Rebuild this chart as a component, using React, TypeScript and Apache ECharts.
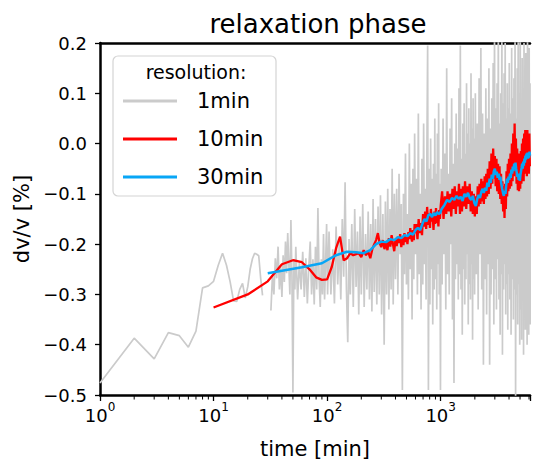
import React, { useEffect, useRef } from "react";
import * as echarts from "echarts";

const TITLE = "relaxation phase";
const X_NAME = "time [min]";
const Y_NAME = "dv/v [%]";
const LEGEND_TITLE = "resolution:";
const SERIES_NAMES = ["1min", "10min", "30min"];
const X_MIN = 1;
const X_MAX = 6120;
const Y_MIN = -0.5;
const Y_MAX = 0.2;
const Y_STEP = 0.1;
const X_TICK_LABELS: Record<number, string> = { 1: "0", 10: "1", 100: "2", 1000: "3" };
const MINOR_TICKS = [2, 3, 4, 5, 6, 7, 8, 9, 20, 30, 40, 50, 60, 70, 80, 90, 200, 300, 400, 500, 600, 700, 800, 900, 2000, 3000, 4000, 5000, 6000];

// 1 min resolution (gray)
const GRAY_EARLY: [number, number | string][] = [
  [1, -0.476], [2, -0.387], [3, -0.428], [4, -0.376], [5, -0.382], [6, -0.405], [7, -0.373], [8, -0.287], [9, -0.283], [10, -0.274],
  [11, -0.242], [12, -0.218], [13, -0.242], [14, -0.275], [15, -0.313], [16, -0.314], [17, -0.29], [18, -0.278], [19, -0.307], [20, -0.285],
  [21, -0.25], [22, -0.229], [23, -0.218], [24, -0.22], [25, -0.223], [26, -0.268], [27, -0.302], [30, "-"],
];
const GRAY_MID: [number, number][] = [
  [32, -0.332], [33, -0.262], [34, -0.3], [35, -0.228], [36, -0.268], [37, -0.205], [38, -0.29], [39, -0.245], [40, -0.305], [41, -0.222],
  [42, -0.275], [43, -0.195], [44, -0.258], [45, -0.178], [46, -0.24], [47, -0.3], [48, -0.152], [49, -0.262], [50, -0.495], [51, -0.23],
  [52, -0.29], [53, -0.205], [55, -0.31], [57, -0.235], [59, -0.29], [61, -0.215], [63, -0.305], [65, -0.228], [67, -0.318], [69, -0.245],
  [71, -0.195], [73, -0.3], [75, -0.23], [77, -0.32], [79, -0.205], [81, -0.29], [83, -0.128], [85, -0.268], [87, -0.325], [89, -0.23],
  [91, -0.3], [93, -0.18], [95, -0.31], [97, -0.24], [99, -0.16], [101, -0.3],
];
const GRAY_HUNDREDS: [number, number][] = [
  [104, -0.175], [108, -0.3], [112, -0.21], [116, -0.318], [120, -0.165], [124, -0.28], [128, -0.195], [132, -0.31], [136, -0.15], [140, -0.265],
  [144, -0.077], [148, -0.29], [152, -0.395], [156, -0.19], [160, -0.3], [165, -0.16], [170, -0.325], [175, -0.13], [180, -0.285], [185, -0.175],
  [190, -0.34], [195, -0.145], [200, -0.3], [206, -0.12], [212, -0.325], [218, -0.18], [224, -0.29], [230, -0.135], [236, -0.31], [242, -0.16],
  [248, -0.334], [254, -0.11], [260, -0.295], [267, -0.15], [274, -0.32], [281, -0.125], [288, -0.3], [295, -0.103], [302, -0.34], [310, -0.14],
  [318, -0.4], [326, -0.115], [334, -0.3], [342, -0.09], [350, -0.33], [358, -0.13], [366, -0.29], [374, -0.05], [382, -0.32], [391, -0.1],
  [400, -0.27], [410, -0.09], [420, -0.3], [430, -0.06], [440, -0.22], [450, -0.12], [460, -0.49], [470, -0.1], [480, -0.26], [490, -0.02],
  [500, -0.28], [510, -0.14], [520, -0.31], [530, 0.0], [540, -0.25], [550, -0.08], [560, -0.35], [570, -0.05], [580, -0.27], [590, 0.02],
  [600, -0.22], [612, -0.07], [624, -0.3], [636, 0.06], [648, -0.26], [660, -0.1], [672, -0.33], [684, -0.03], [696, -0.28], [708, 0.04],
  [720, -0.24], [732, -0.09], [744, -0.31], [756, -0.02], [768, 0.195], [780, -0.49], [792, -0.05], [804, -0.32], [816, 0.01], [828, -0.25],
  [840, -0.07], [852, -0.36], [864, -0.04], [876, -0.29], [888, 0.05], [900, -0.27], [912, -0.06], [924, -0.33], [936, 0.02], [948, -0.24],
  [960, 0.08], [972, -0.3], [984, -0.08], [996, -0.49],
];
const GRAY_THOUSANDS: [number, number][] = [
  [1010, -0.05], [1030, -0.28], [1050, 0.05], [1070, -0.22], [1090, -0.02], [1110, -0.33], [1130, 0.15], [1150, -0.26], [1170, -0.06], [1190, -0.3],
  [1210, 0.03], [1230, -0.2], [1250, 0.09], [1270, -0.35], [1290, -0.04], [1310, -0.476], [1330, 0.0], [1350, -0.27], [1370, 0.06], [1390, -0.24],
  [1410, -0.01], [1430, -0.31], [1450, 0.11], [1470, -0.26], [1490, 0.195], [1510, -0.29], [1530, -0.03], [1550, -0.38], [1570, 0.04], [1590, -0.25],
  [1610, 0.08], [1630, -0.32], [1650, -0.02], [1670, -0.27], [1690, 0.12], [1710, -0.22], [1730, 0.02], [1750, -0.36], [1770, 0.07], [1790, -0.28],
  [1810, 0.0], [1830, -0.31], [1850, 0.14], [1870, -0.24], [1890, 0.03], [1910, -0.39], [1930, 0.09], [1950, -0.27], [1970, 0.01], [1990, -0.3],
  [2020, 0.1], [2060, -0.26], [2100, 0.04], [2140, -0.33], [2180, 0.13], [2220, -0.22], [2260, 0.19], [2300, -0.29], [2340, 0.06], [2380, -0.44],
  [2420, 0.02], [2460, -0.27], [2500, 0.11], [2540, -0.34], [2580, 0.05], [2620, -0.24], [2660, 0.15], [2700, -0.44], [2740, 0.03], [2780, -0.3],
  [2820, 0.09], [2860, -0.25], [2900, 0.16], [2940, -0.36], [2980, 0.24], [3020, -0.27], [3060, 0.07], [3100, -0.33], [3140, 0.12], [3180, -0.23],
  [3220, 0.24], [3260, -0.31], [3300, 0.04], [3340, -0.38], [3380, 0.1], [3420, -0.26], [3460, 0.24], [3500, -0.42], [3540, 0.08], [3580, -0.29],
  [3620, 0.14], [3660, -0.24], [3700, 0.2], [3740, -0.34], [3780, 0.05], [3820, -0.28], [3860, 0.12], [3900, -0.37], [3940, 0.07], [3980, -0.26],
  [4020, 0.16], [4070, -0.31], [4120, 0.06], [4170, -0.38], [4220, 0.19], [4270, -0.27], [4320, 0.09], [4370, -0.35], [4420, 0.13], [4470, -0.29],
  [4520, 0.22], [4570, -0.51], [4620, 0.05], [4670, -0.3], [4720, 0.15], [4770, -0.36], [4820, 0.24], [4870, -0.28], [4920, 0.1], [4970, -0.4],
  [5020, 0.24], [5070, -0.33], [5120, 0.08], [5170, -0.39], [5220, 0.17], [5270, -0.3], [5320, 0.11], [5370, -0.42], [5420, 0.2], [5470, -0.32],
  [5520, 0.07], [5570, -0.37], [5620, 0.18], [5670, -0.29], [5720, 0.13], [5770, -0.4], [5820, 0.22], [5870, -0.33], [5920, 0.09], [5970, -0.38],
  [6020, 0.19], [6070, -0.31], [6120, 0.12], [6140, -0.36],
];

// 10 min resolution (red)
const RED_EARLY: [number, number][] = [
  [10, -0.326], [20, -0.3], [30, -0.274], [40, -0.24], [50, -0.232], [60, -0.236], [70, -0.25], [80, -0.266], [90, -0.271], [100, -0.27],
  [110, -0.245], [120, -0.208], [130, -0.185], [140, -0.232], [150, -0.228], [160, -0.218], [170, -0.222], [180, -0.22], [190, -0.218], [200, -0.226],
  [210, -0.212], [220, -0.222], [230, -0.215], [240, -0.228], [250, -0.21], [260, -0.2], [270, -0.192], [280, -0.178], [290, -0.198], [300, -0.206],
  [310, -0.192], [320, -0.21], [330, -0.196], [340, -0.212], [350, -0.188], [360, -0.205], [370, -0.182], [380, -0.2], [390, -0.214], [400, -0.19],
  [410, -0.204], [420, -0.185], [430, -0.198], [440, -0.18], [450, -0.206], [460, -0.186], [470, -0.202], [480, -0.178], [490, -0.196], [500, -0.184],
  [510, -0.2], [520, -0.176], [530, -0.19], [540, -0.168], [550, -0.186], [560, -0.195], [570, -0.172], [580, -0.192], [590, -0.16], [600, -0.178],
];
const RED_MID: [number, number][] = [
  [610, -0.16], [625, -0.19], [640, -0.15], [655, -0.178], [670, -0.158], [685, -0.182], [700, -0.14], [715, -0.165], [730, -0.135], [745, -0.17],
  [760, -0.126], [775, -0.162], [790, -0.138], [805, -0.168], [820, -0.13], [835, -0.155], [850, -0.14], [865, -0.172], [880, -0.135], [895, -0.16],
  [910, -0.128], [925, -0.158], [940, -0.138], [955, -0.165], [970, -0.132], [985, -0.15], [1000, -0.125],
];
const RED_LATE: [number, number][] = [
  [1030, -0.095], [1060, -0.15], [1090, -0.105], [1120, -0.14], [1150, -0.095], [1180, -0.135], [1210, -0.1], [1240, -0.145], [1270, -0.09], [1300, -0.13],
  [1330, -0.085], [1360, -0.14], [1390, -0.095], [1420, -0.125], [1450, -0.08], [1480, -0.14], [1510, -0.09], [1540, -0.135], [1570, -0.085], [1600, -0.125],
  [1640, -0.075], [1680, -0.13], [1720, -0.085], [1760, -0.12], [1800, -0.08], [1840, -0.135], [1880, -0.095], [1920, -0.14], [1960, -0.1], [2000, -0.145],
  [2040, -0.105], [2080, -0.14], [2120, -0.085], [2160, -0.125], [2200, -0.08], [2240, -0.12], [2280, -0.07], [2320, -0.115], [2360, -0.075], [2400, -0.12],
  [2440, -0.065], [2480, -0.11], [2520, -0.06], [2560, -0.105], [2600, -0.05], [2650, -0.1], [2700, -0.035], [2750, -0.09], [2800, -0.02], [2850, -0.08],
  [2900, -0.01], [2950, -0.07], [3000, -0.025], [3050, -0.085], [3100, -0.03], [3150, -0.095], [3200, -0.04], [3250, -0.1], [3300, -0.045], [3350, -0.11],
  [3400, -0.06], [3450, -0.12], [3500, -0.075], [3550, -0.135], [3600, -0.085], [3650, -0.148], [3700, -0.08], [3750, -0.13], [3800, -0.055], [3850, -0.105],
  [3900, -0.04], [3950, -0.095], [4000, -0.03], [4060, -0.09], [4120, -0.02], [4180, -0.085], [4240, 0.0], [4300, -0.075], [4360, 0.02], [4420, -0.065],
  [4480, 0.04], [4540, -0.06], [4600, 0.01], [4660, -0.08], [4720, -0.01], [4780, -0.093], [4840, -0.02], [4900, -0.095], [4960, -0.03], [5020, -0.09],
  [5080, -0.015], [5140, -0.08], [5200, 0.0], [5260, -0.07], [5320, 0.01], [5380, -0.075], [5440, 0.02], [5500, -0.06], [5560, 0.027], [5620, -0.055],
  [5680, 0.015], [5740, -0.065], [5800, 0.027], [5860, -0.05], [5920, 0.01], [5980, -0.06], [6040, 0.02], [6100, -0.045],
];

// 30 min resolution (blue)
const BLUE_EARLY: [number, number][] = [
  [30, -0.258], [60, -0.246], [90, -0.238], [120, -0.222], [150, -0.215], [180, -0.216], [210, -0.218], [240, -0.212], [270, -0.2], [300, -0.195],
  [330, -0.196], [360, -0.19], [390, -0.192], [420, -0.186], [450, -0.188], [480, -0.182], [510, -0.184], [540, -0.178], [570, -0.181], [600, -0.172],
  [630, -0.168], [660, -0.172], [690, -0.16], [720, -0.15], [750, -0.155], [780, -0.142], [810, -0.14], [840, -0.146], [870, -0.138], [900, -0.143],
  [930, -0.136], [960, -0.14], [990, -0.138],
];
const BLUE_LATE: [number, number][] = [
  [1020, -0.13], [1080, -0.122], [1140, -0.112], [1200, -0.116], [1260, -0.108], [1320, -0.112], [1380, -0.104], [1440, -0.11], [1500, -0.106], [1560, -0.114],
  [1620, -0.1], [1680, -0.106], [1740, -0.098], [1800, -0.108], [1860, -0.112], [1920, -0.104], [1980, -0.118], [2040, -0.124], [2100, -0.11], [2160, -0.102],
  [2220, -0.108], [2280, -0.096], [2340, -0.09], [2400, -0.098], [2460, -0.088], [2520, -0.094], [2580, -0.078], [2640, -0.086], [2700, -0.07], [2760, -0.078],
  [2820, -0.062], [2880, -0.07], [2940, -0.055], [3000, -0.05], [3060, -0.062], [3120, -0.056], [3180, -0.068], [3240, -0.06], [3300, -0.072], [3360, -0.066],
  [3420, -0.08], [3480, -0.09], [3540, -0.098], [3600, -0.104], [3660, -0.094], [3720, -0.1], [3780, -0.082], [3840, -0.07], [3900, -0.078], [3960, -0.066],
  [4020, -0.072], [4080, -0.06], [4140, -0.068], [4200, -0.052], [4260, -0.06], [4320, -0.046], [4380, -0.055], [4440, -0.04], [4500, -0.048], [4560, -0.038],
  [4620, -0.05], [4680, -0.058], [4740, -0.066], [4800, -0.06], [4860, -0.072], [4920, -0.064], [4980, -0.074], [5040, -0.062], [5100, -0.055], [5160, -0.048],
  [5220, -0.04], [5280, -0.05], [5340, -0.036], [5400, -0.044], [5460, -0.03], [5520, -0.038], [5580, -0.024], [5640, -0.032], [5700, -0.02], [5760, -0.028],
  [5820, -0.018], [5880, -0.03], [5940, -0.022], [6000, -0.028], [6060, -0.016], [6120, -0.024],
];

const GRAY = "#cbcbcb";
const RED = "#ff0000";
const BLUE = "#08a6f6";
const FONT = "DejaVu Sans";

export default function App() {
  const ref = useRef<HTMLDivElement>(null);
  useEffect(() => {
    if (!ref.current) return;
    const chart = echarts.init(ref.current, null, { renderer: "svg" });
    const grayData = [...GRAY_EARLY, ...GRAY_MID, ...GRAY_HUNDREDS, ...GRAY_THOUSANDS];
    const redData = [...RED_EARLY, ...RED_MID, ...RED_LATE];
    const blueData = [...BLUE_EARLY, ...BLUE_LATE];
    const fmtY = (v: number) => {
      if (Math.abs(v) < 1e-9) return "0.0";
      return (v < 0 ? "\u2212" : "") + Math.abs(v).toFixed(1);
    };
    chart.setOption({
      animation: false,
      backgroundColor: "#ffffff",
      title: {
        text: TITLE,
        left: 313,
        top: 6,
        textAlign: "center",
        textStyle: { fontSize: 26, fontWeight: "normal", fontFamily: FONT, color: "#000" },
      },
      grid: { left: 100, right: 0, top: 43, bottom: 62, containLabel: false },
      legend: {
        data: SERIES_NAMES,
        orient: "vertical",
        left: 123,
        top: 89,
        icon: "rect",
        itemWidth: 54,
        itemHeight: 3,
        itemGap: 14,
        padding: 0,
        textStyle: { fontSize: 21, fontFamily: FONT, color: "#000", lineHeight: 24, padding: [0, 0, 0, 15] },
      },
      graphic: [
        {
          type: "rect",
          z: 0,
          shape: { x: 113, y: 56, width: 163, height: 140, r: 5 },
          style: { fill: "rgba(255,255,255,0.8)", stroke: "#d4d4d4", lineWidth: 1.2 },
        },
        {
          type: "text",
          z: 1,
          x: 196,
          y: 72,
          style: { text: LEGEND_TITLE, fontSize: 19, fontFamily: FONT, fill: "#000", align: "center", verticalAlign: "middle" },
        },
      ],
      xAxis: [
        {
          type: "log",
          logBase: 10,
          min: X_MIN,
          max: X_MAX,
          name: X_NAME,
          nameLocation: "middle",
          nameGap: 43,
          nameTextStyle: { fontSize: 21, fontFamily: FONT, color: "#000" },
          axisLine: { show: true, onZero: false, lineStyle: { color: "#000", width: 2.5 } },
          axisTick: { show: true, inside: false, length: 6, lineStyle: { color: "#000", width: 1.3 } },
          axisLabel: {
            color: "#000",
            margin: 6,
            formatter: (v: number) => {
              const e = X_TICK_LABELS[Math.round(v)];
              return e === undefined ? "" : "{b|10}{s|" + e + "}";
            },
            rich: {
              b: { fontSize: 18, fontFamily: FONT, color: "#000", lineHeight: 23, verticalAlign: "bottom" },
              s: { fontSize: 12, fontFamily: FONT, color: "#000", lineHeight: 12, verticalAlign: "top" },
            },
          },
          splitLine: { show: false },
        },
        {
          type: "log",
          logBase: 10,
          min: X_MIN,
          max: X_MAX,
          position: "top",
          axisLine: { show: true, onZero: false, lineStyle: { color: "#000", width: 2.5 } },
          axisTick: { show: false },
          axisLabel: { show: false },
          splitLine: { show: false },
        },
      ],
      yAxis: {
        type: "value",
        min: Y_MIN,
        max: Y_MAX,
        interval: Y_STEP,
        name: Y_NAME,
        nameLocation: "middle",
        nameGap: 63,
        nameTextStyle: { fontSize: 21, fontFamily: FONT, color: "#000" },
        axisLine: { show: true, onZero: false, lineStyle: { color: "#000", width: 2.5 } },
        axisTick: { show: true, inside: false, length: 5, lineStyle: { color: "#000", width: 1.3 } },
        axisLabel: { color: "#000", fontSize: 18, fontFamily: FONT, margin: 13, formatter: fmtY },
        splitLine: { show: false },
      },
      series: [
        {
          name: SERIES_NAMES[0],
          type: "line",
          data: grayData,
          showSymbol: false,
          symbol: "none",
          connectNulls: false,
          lineStyle: { color: GRAY, width: 1.7 },
          itemStyle: { color: GRAY },
          z: 2,
        },
        {
          name: SERIES_NAMES[1],
          type: "line",
          data: redData,
          showSymbol: false,
          symbol: "none",
          lineStyle: { color: RED, width: 2.3 },
          itemStyle: { color: RED },
          z: 3,
        },
        {
          name: SERIES_NAMES[2],
          type: "line",
          data: blueData,
          showSymbol: false,
          symbol: "none",
          lineStyle: { color: BLUE, width: 2.5 },
          itemStyle: { color: BLUE },
          z: 4,
        },
        {
          name: "minorTicks",
          type: "custom",
          silent: true,
          clip: false,
          data: MINOR_TICKS.map((v) => [v, Y_MIN]),
          renderItem: (_p: any, api: any) => {
            const pt = api.coord([api.value(0), Y_MIN]);
            return {
              type: "line",
              shape: { x1: pt[0], y1: pt[1] + 1, x2: pt[0], y2: pt[1] + 4.5 },
              style: { stroke: "#000", lineWidth: 1 },
            };
          },
          z: 5,
        },
      ],
    });
    return () => chart.dispose();
  }, []);
  return <div ref={ref} style={{ position: "absolute", left: 0, top: 0, width: 533, height: 464 }} />;
}
